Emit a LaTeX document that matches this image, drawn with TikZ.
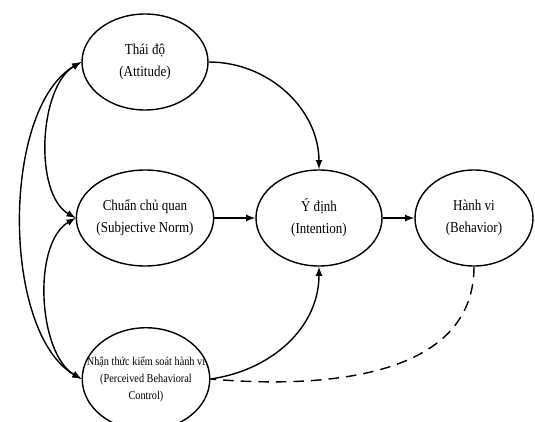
\documentclass[tikz,border=0pt]{standalone}
\usepackage{fontspec}
\setmainfont{Liberation Serif}[FakeStretch=0.86]
\usepackage{tikz}
\usetikzlibrary{shapes.geometric}

\begin{document}
\begin{tikzpicture}[>=latex, line width=0.8pt,
  oval/.style={draw, ellipse, minimum width=2.52cm, minimum height=1.92cm,
    inner sep=0pt, align=center, font=\fontsize{8.6}{12.5}\selectfont},
  ovalsmall/.style={oval, minimum height=2.05cm, inner xsep=-8pt, font=\fontsize{6.8}{9.7}\selectfont}]
\useasboundingbox (0,0) rectangle (10.7,8.42);
% the five factors
\node[oval] (att) at (2.9,7.18) {Thái độ\\(Attitude)};
\node[oval] (sn) at (2.9,4.06) {Chuẩn chủ quan\\(Subjective Norm)};
\node[ovalsmall] (pbc) at (2.92,0.84) {Nhận thức kiểm soát hành vi\\(Perceived Behavioral\\Control)};
\node[oval] (int) at (6.38,4.06) {Ý định\\(Intention)};
\node[oval, minimum width=2.36cm] (beh) at (9.48,4.06) {Hành vi\\(Behavior)};
% paths to intention and behavior
\draw[->] (att.east) to[out=0,in=90] (int.north);
\draw[->] (sn) -- (int);
\draw[->] (pbc.east) to[out=8,in=-90] (int.south);
\draw[->] (int) -- (beh);
\draw[dash pattern=on 6pt off 4pt] (beh.south) to[out=-90,in=-5] (pbc.east);
% correlations on the left
\draw[<->] (att.west) to[out=210,in=150,looseness=0.75] (pbc.west);
\draw[<->] (att.west) to[out=210,in=150,looseness=0.8] (sn.west);
\draw[<->] (sn.west) to[out=210,in=150,looseness=0.8] (pbc.west);
\end{tikzpicture}
\end{document}
